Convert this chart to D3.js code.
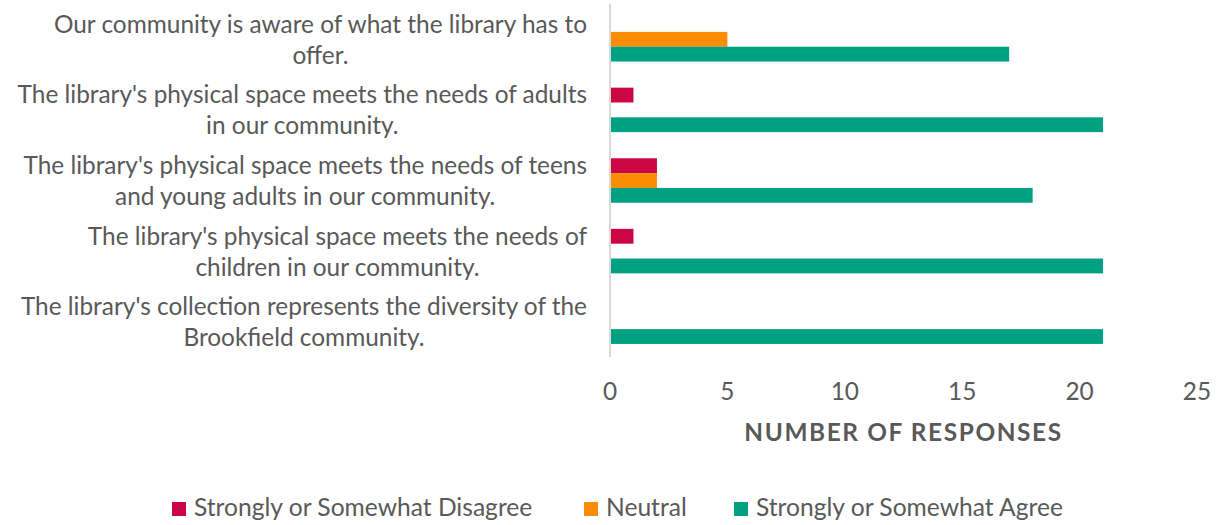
<!DOCTYPE html>
<html>
<head>
<meta charset="utf-8">
<script src="https://cdn.jsdelivr.net/npm/d3@7"></script>
<style>
  body { margin: 0; background: #fff; }
  text { font-family: Lato, "Open Sans", sans-serif; fill: #595959; }
</style>
</head>
<body>
<script>
const categories = [
  ["Our community is aware of what the library has to", "offer."],
  ["The library's physical space meets the needs of adults", "in our community."],
  ["The library's physical space meets the needs of teens", "and young adults in our community."],
  ["The library's physical space meets the needs of", "children in our community."],
  ["The library's collection represents the diversity of the", "Brookfield community."]
];
const seriesNames = ["Strongly or Somewhat Disagree", "Neutral", "Strongly or Somewhat Agree"];
const disagree = [0, 1, 2, 1, 0];
const neutral = [5, 0, 2, 0, 0];
const agree = [17, 21, 18, 21, 21];
const xTicks = [0, 5, 10, 15, 20, 25];
const colors = ["#cc0645", "#fb8c06", "#00a183"];

const width = 1217, height = 525;
const svg = d3.select("body").append("svg")
  .attr("width", width)
  .attr("height", height);

const x = d3.scaleLinear().domain([0, 25]).range([610, 1197]);
const y = d3.scaleBand()
  .domain(d3.range(categories.length))
  .range([4, 357])
  .paddingInner(0.37)
  .paddingOuter(0.185);
const sub = d3.scaleBand().domain(d3.range(3)).range([0, y.bandwidth()]);

const series = [disagree, neutral, agree];

// bars
series.forEach((vals, s) => {
  svg.append("g").selectAll("rect").data(vals).enter()
    .append("rect")
    .attr("x", x(0))
    .attr("y", (d, i) => y(i) + sub(s))
    .attr("width", d => x(d) - x(0))
    .attr("height", sub.bandwidth())
    .attr("fill", colors[s]);
});

// vertical axis line
svg.append("line")
  .attr("x1", x(0)).attr("x2", x(0))
  .attr("y1", 4).attr("y2", 357)
  .attr("stroke", "#d9d9d9")
  .attr("stroke-width", 2);

// category labels, second line centred under the first
const labels = svg.append("g").selectAll("text").data(categories).enter()
  .append("text")
  .style("font-size", "24.4px");
labels.each(function (d, i) {
  const c = y(i) + y.bandwidth() / 2;
  const t = d3.select(this);
  const first = t.append("tspan").attr("y", c - 15.5 + 9).text(d[0]);
  const w = first.node().getComputedTextLength();
  first.attr("x", 587 - w);
  t.append("tspan").attr("x", 587 - w / 2).attr("y", c + 15.5 + 9)
    .attr("text-anchor", "middle").text(d[1]);
});

// x axis ticks
svg.append("g").selectAll("text").data(xTicks).enter()
  .append("text")
  .attr("x", d => x(d))
  .attr("y", 400)
  .attr("text-anchor", "middle")
  .style("font-size", "24.4px")
  .text(d => d);

svg.append("text")
  .attr("x", (x(0) + x(25)) / 2)
  .attr("y", 441)
  .attr("text-anchor", "middle")
  .style("font-size", "24.4px")
  .style("font-weight", "bold")
  .style("letter-spacing", "1.6px")
  .text("NUMBER OF RESPONSES");

// legend
const legendX = [172, 584, 734];
const legend = svg.append("g").selectAll("g").data(seriesNames).enter()
  .append("g")
  .attr("transform", (d, i) => `translate(${legendX[i]},502)`);
legend.append("rect")
  .attr("width", 14).attr("height", 14)
  .attr("fill", (d, i) => colors[i]);
legend.append("text")
  .attr("x", 22).attr("y", 14)
  .style("font-size", "24.6px")
  .text(d => d);
</script>
</body>
</html>
